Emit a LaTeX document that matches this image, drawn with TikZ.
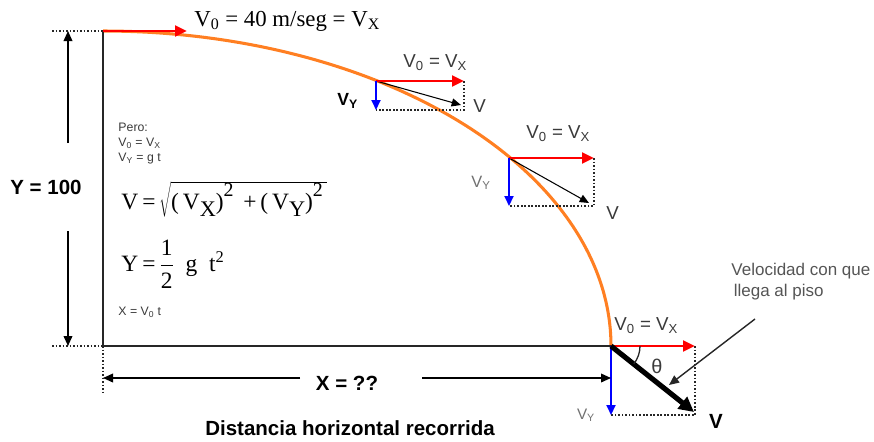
\documentclass[tikz,border=0pt]{standalone}
\usepackage{fontspec}
\setmainfont{Liberation Serif}
\setsansfont{Liberation Sans}
\usetikzlibrary{arrows.meta,calc}
\definecolor{trajorange}{HTML}{FF7F22}
\definecolor{vxred}{HTML}{FF0000}
\definecolor{vyblue}{HTML}{0000FF}
\definecolor{axisgray}{HTML}{262626}
\definecolor{txtgray}{HTML}{3A3A3A}
\definecolor{lightgray}{HTML}{707070}
\definecolor{notegray}{HTML}{555555}

\newcommand{\bigsub}[1]{\raisebox{-0.3em}{\fontsize{19}{19}\selectfont #1}}
\newcommand{\bigsup}[1]{\raisebox{0.55em}{\fontsize{17}{17}\selectfont #1}}

\begin{document}
\begin{tikzpicture}[
    x=0.03cm, y=-0.03cm,
    line width=0.8pt,
    axis/.style   = {draw=axisgray, line width=1.7pt},
    guide/.style  = {draw=axisgray, line width=1.5pt, dash pattern=on 1.5pt off 1.5pt},
    traj/.style   = {draw=trajorange, line width=2.6pt},
    vx/.style     = {draw=vxred, line width=2.4pt, -{Triangle[length=3.6mm,width=3.2mm]}},
    vy/.style     = {draw=vyblue, line width=1.7pt, -{Triangle[length=3mm,width=2.7mm]}},
    vres/.style   = {draw=black, line width=0.9pt, -{Triangle[length=2.8mm,width=2.4mm]}},
    vhit/.style   = {draw=black, line width=4.4pt, -{Triangle[length=4.5mm,width=4.4mm]}},
    dim/.style    = {draw=black, line width=1.3pt, -{Triangle[length=3mm,width=2.6mm]}},
    note/.style   = {draw=axisgray, line width=1.2pt, -{Triangle[length=3mm,width=2.6mm]}},
    eqn/.style    = {font=\rmfamily\fontsize{20}{23}\selectfont, inner sep=0pt, anchor=west},
    small/.style  = {font=\sffamily\fontsize{10.5}{12.8}\selectfont, text=txtgray,
                     inner sep=0pt, anchor=west, align=left},
    lbl/.style    = {font=\sffamily\fontsize{16}{18}\selectfont, text=txtgray,
                     inner sep=0pt, anchor=west},
    dimlbl/.style = {font=\sffamily\bfseries\fontsize{17.5}{20}\selectfont, text=black,
                     inner sep=0pt},
  ]
  \useasboundingbox (0,0) rectangle (874,441);

  % --- Key points -------------------------------------------------------
  \coordinate (top)  at (103,31);
  \coordinate (gnd)  at (103,346);
  \coordinate (hit)  at (611,346);
  \coordinate (pa)   at (376,81);
  \coordinate (pb)   at (509,158);

  % --- Trajectory and frame --------------------------------------------
  \draw[traj] plot[domain=90:0, samples=90, smooth]
    ({103+508*cos(\x)},{346-315*sin(\x)});
  \draw[axis] (top) -- (gnd) -- (hit);

  % dotted guides at the frame
  \coordinate (topl) at (52,31);
  \coordinate (gndl) at (52,346);
  \coordinate (gndd) at (103,393);
  \draw[guide] (topl) -- (top);
  \draw[guide] (gndl) -- (gnd);
  \draw[guide] (gnd) -- (gndd);

  % --- Launch velocity -------------------------------------------------
  \coordinate (topvx) at (187,31);
  \draw[vx] (top) -- (topvx);
  \node[eqn, font=\rmfamily\fontsize{19.5}{22}\selectfont] (toplbl) at (194,21)
    {V\textsubscript{0} = 40 m/seg = V\textsubscript{X}};

  % --- Point A ---------------------------------------------------------
  \coordinate (pavx) at (464,81);
  \coordinate (pavy) at (376,110);
  \coordinate (pav)  at (461,105);
  \draw[guide] (pavx) |- (pavy);
  \draw[vres] (pa) -- (pav);
  \draw[vx] (pa) -- (pavx);
  \draw[vy] (pa) -- (pavy);
  \node[lbl] (avxlbl) at (403,63) {V\textsubscript{0} = V\textsubscript{X}};
  \node[lbl, font=\sffamily\bfseries\fontsize{15}{17}\selectfont, text=black]
    (avylbl) at (337,101) {V\textsubscript{Y}};
  \node[lbl] (avlbl) at (473,106) {V};

  % --- Point B ---------------------------------------------------------
  \coordinate (pbvx) at (594,158);
  \coordinate (pbvy) at (509,206);
  \coordinate (pbv)  at (589,203);
  \draw[guide] (pbvx) |- (pbvy);
  \draw[vres] (pb) -- (pbv);
  \draw[vx] (pb) -- (pbvx);
  \draw[vy] (pb) -- (pbvy);
  \node[lbl] (bvxlbl) at (526,134) {V\textsubscript{0} = V\textsubscript{X}};
  \node[lbl, font=\sffamily\fontsize{14}{16}\selectfont, text=lightgray]
    (bvylbl) at (471,183) {V\textsubscript{Y}};
  \node[lbl] (bvlbl) at (606,213) {V};

  % --- Impact point ----------------------------------------------------
  \coordinate (hitvx) at (695,346);
  \coordinate (hitvy) at (611,415);
  \coordinate (hitv)  at (694,412);
  \draw[guide] (hitvx) |- (hitvy);
  \draw[vy] (hit) -- (hitvy);
  \draw[vx] (hit) -- (hitvx);
  \draw[vhit] (hit) -- (hitv);
  \draw[axisgray, line width=1.1pt] ($(hit)+(29,0)$) arc[start angle=0, end angle=-38, radius=0.87cm];
  \node[lbl] (cvxlbl) at (614,326) {V\textsubscript{0} = V\textsubscript{X}};
  \node[lbl, anchor=center, font=\sffamily\fontsize{17}{19}\selectfont] (thetalbl) at (657,366) {θ};
  \node[lbl, anchor=center, font=\sffamily\fontsize{13}{15}\selectfont, text=lightgray]
    (cvylbl) at (586,415) {V\textsubscript{Y}};
  \node[dimlbl] (cvlbl) at (716,421) {V};

  % note on the final velocity
  \node[lbl, anchor=north west, align=left, font=\sffamily\fontsize{14.5}{18}\selectfont, text=notegray]
    (notelbl) at (731,263) {Velocidad con que\\\hspace{2pt}llega al piso};
  \coordinate (notetail) at (755,319);
  \coordinate (notetip)  at (669,385);
  \draw[note] (notetail) -- (notetip);

  % --- Dimensions ------------------------------------------------------
  \node[dimlbl] (ylbl) at (46,187) {Y = 100};
  \coordinate (ya) at (68,143);
  \coordinate (yb) at (68,231);
  \draw[dim] (ya) -- (ya |- top);
  \draw[dim] (yb) -- (yb |- gnd);

  \node[dimlbl] (xlbl) at (347,383) {X = ??};
  \coordinate (xa) at (300,378);
  \coordinate (xb) at (422,378);
  \draw[dim] (xa) -- (xa -| gnd);
  \draw[dim] (xb) -- (xb -| hit);

  \node[dimlbl] (distlbl) at (350,428) {Distancia horizontal recorrida};

  % --- Formulas --------------------------------------------------------
  \node[small, anchor=north west] (pero) at (118,123)
    {Pero:\\V\textsubscript{0} = V\textsubscript{X}\\V\textsubscript{Y} = g t};
  \node[eqn] (veq) at (121,199)
    {V\,=\,$\sqrt{\mbox{(\,V\bigsub{X})\bigsup{2}\ \,+\,(\,V\bigsub{Y})\bigsup{2}\,}}$};
  \node[eqn] (yeq) at (121,264)
    {Y\,=\,$\displaystyle\frac{\mbox{1}}{\mbox{2}}$\ \ g\ \ t\textsuperscript{2}};
  \node[small] (xeq) at (118,312) {X = V\textsubscript{0} t};
\end{tikzpicture}
\end{document}
